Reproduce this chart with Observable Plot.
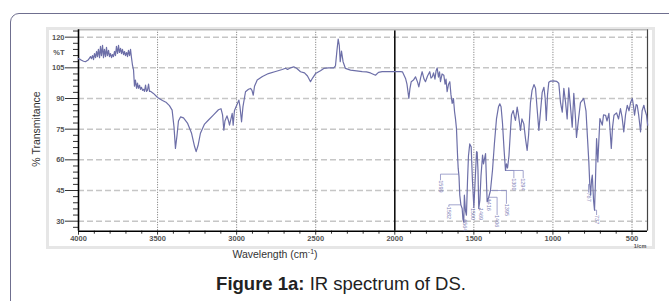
<!DOCTYPE html>
<html><head><meta charset="utf-8">
<script src="https://cdn.jsdelivr.net/npm/d3@7"></script>
<script src="https://cdn.jsdelivr.net/npm/@observablehq/plot@0.6"></script>
<style>
html,body{margin:0;padding:0;background:#fff;}
#wrap{position:relative;width:669px;height:301px;overflow:hidden;background:#fff;font-family:"Liberation Sans",Arial,sans-serif;}
#outer{position:absolute;left:10px;top:13px;width:720px;height:340px;border:1.5px solid #6f6f8f;border-radius:9px;box-sizing:border-box;}
#img{position:absolute;left:46px;top:27px;width:609px;height:222px;border:3px solid #e6e6e6;box-sizing:border-box;background:#fff;}
#chart{position:absolute;left:0;top:0;}
#ytitle{position:absolute;left:36px;top:129px;transform:translate(-50%,-50%) rotate(-90deg);font-size:10.5px;color:#333;white-space:nowrap;}
#xtitle{position:absolute;left:275px;top:254px;transform:translate(-50%,-50%);font-size:10.5px;color:#333;white-space:nowrap;}
#caption{position:absolute;left:341px;top:284px;transform:translate(-50%,-50%);font-size:18.5px;color:#222;white-space:nowrap;}
.ir .ticklab text{letter-spacing:0.4px;}
</style>
</head><body>
<div id="wrap">
  <div id="outer"></div>
  <div id="img"></div>
  <div id="chart"></div>
  <div id="ytitle">% Transmitance</div>
  <div id="xtitle">Wavelength (cm<sup style="font-size:7px">-1</sup>)</div>
  <div id="caption"><b>Figure 1a:</b> IR spectrum of DS.</div>
</div>
<script>
// Wavenumber (cm-1) and %T
const wavenumber = [4000,3987,3968,3956,3937,3924,3918,3911,3905,3899,3892,3886,3880,3874,3867,3861,3855,3848,3842,3836,3829,3823,3817,3810,3804,3798,3791,3785,3779,3772,3766,3760,3753,3747,3741,3734,3728,3722,3715,3709,3703,3696,3690,3684,3677,3671,3665,3659,3652,3646,3640,3633,3627,3621,3614,3608,3602,3595,3589,3583,3576,3570,3564,3557,3551,3545,3526,3500,3469,3444,3425,3408,3396,3387,3377,3368,3355,3336,3311,3285,3266,3256,3244,3229,3203,3178,3146,3115,3099,3089,3081,3074,3061,3051,3045,3036,3028,3022,3014,3001,2986,2979,2969,2960,2944,2925,2912,2903,2895,2887,2870,2837,2799,2754,2712,2691,2678,2659,2639,2621,2596,2571,2552,2533,2520,2501,2470,2449,2419,2386,2375,2365,2358,2351,2345,2337,2327,2312,2280,2242,2206,2179,2154,2122,2103,2080,2040,2002,1964,1951,1932,1923,1911,1904,1896,1882,1869,1856,1848,1837,1827,1815,1806,1793,1779,1771,1763,1755,1746,1739,1732,1724,1717,1711,1701,1690,1682,1676,1669,1660,1652,1645,1637,1629,1622,1616,1610,1603,1599,1594,1589,1582,1574,1569,1564,1560,1553,1547,1540,1534,1526,1517,1509,1500,1493,1483,1479,1474,1469,1462,1455,1445,1439,1426,1416,1406,1395,1382,1370,1357,1344,1336,1328,1319,1309,1300,1294,1287,1278,1268,1262,1251,1243,1237,1226,1218,1205,1196,1184,1173,1163,1154,1142,1132,1120,1110,1100,1089,1078,1068,1057,1049,1042,1034,1026,1015,996,977,963,952,941,931,920,910,900,889,878,868,857,851,838,826,805,791,781,773,767,762,756,751,743,737,731,724,716,703,688,680,667,658,646,639,631,623,614,598,585,573,563,552,541,530,519,509,498,490,484,474,467,458,452,446,436,425,417,408,401];
const transmittance = [109.5,109,108.2,108,109,110.5,109.5,111,109,112,110,113,110.5,114,110,115.5,111,116,110,114,110.5,115,111,113.5,110.5,112,110,111.5,110.5,113,111,115.5,112,116,112.5,114.5,112,114,111.5,113,111,112.5,110.5,113.5,111,114,110,106.5,104,96,99,95,97.5,95,96.5,94.5,95.5,94,94.5,93.5,96.5,93.5,94,97,93.5,93.5,92.5,90.5,89,88,86.5,84.3,76,65.6,72,79,81,80.5,78,73,66.5,64,67,73,77.5,79.5,82,84.5,85,82,74.5,79,81.5,79,77,80,82.7,77,84,86.5,89.2,86,78.6,86,93.3,94.5,94.9,94,91.6,96,99,100.8,102.2,103.2,104.2,104.8,104.2,105,105.5,104.8,103.1,102.5,101,98.2,100,102.2,103.6,104.7,105,105,106,114,119,116,108,113.2,108,104.7,103.9,103.5,103.1,103,102.5,101.4,102.8,103.1,103.2,103.1,103.1,103,99.8,97,90,95,98.2,99,100.6,98,95.7,100,103.1,99.5,98.2,101,103.1,100,100.6,102.5,99.5,103.5,105,100.5,103,98.2,102,101.4,97,99.5,93.3,97,98.2,92,87.6,90,83.5,80,75.3,62,55.8,52,42.7,38,36.2,31,29.5,42.7,35,32.9,50,62,67.8,66.4,50,36.8,48,64,63.7,55,36.2,40.1,52,62.3,58,63,39.5,41.7,45,55,68,80,86,87.4,86,78,65,54.8,58,56,62,75,82,84.1,81,79.3,85.8,82,74.4,80,77.6,70,64.6,72,88,94,96.8,95,85,74.4,84,93,95.5,90,79.3,92,98,98.5,98.6,98.4,97.5,88,83.3,95,88,80,95.2,86,76,92.5,80,71,80,88,90,84,70,59,48,42.7,50,52.5,40,35.4,50,70.4,59,80.2,77,82,81.8,79,82.7,75,65.6,76,81.8,83,80,85.1,81,73.7,82,86.7,84,88,90,86,81.8,87,86.7,82,78,73.7,84,86.7,84,81.8,77];

// axis ticks
const yMajor = [120,105,90,75,60,45,30];
const yMinor = [123,117,114,111,108,102,99,96,93,87,84,81,78,72,69,66,63,57,54,51,48,42,39,36,33,27];
const yUnitTick = [112.5];
const yUnitLabel = "%T";
const xMajor = [4000,3500,3000,2500,2000,1500,1000,500];
const xMinor = [3900,3800,3700,3600,3400,3300,3200,3100,2900,2800,2700,2600,2400,2300,2200,2100,1900,1800,1700,1600,1400,1300,1200,1100,900,800,700,600];
const xDotted = [3500,3000,2500,1500,1000,500];
const xSolid = [2000];
const xUnit = "1/cm";

// peak annotations: peak position, label position, label text
const annPeakW = [1599,1582,1564,1500,1469,1416,1406,1395,1300,1300,767,737];
const annPeakT = [53,38,29.5,36.8,36.2,39.5,41.7,45,54.8,54.8,48,35.4];
const annLabW  = [1711,1658,1556,1504,1458,1404,1353,1294,1247,1188,775,724];
const annLabT  = [50,37,31,36.5,36.5,41,33,38.5,51,51,44,33];
const annText  = ["1599","1582","1564","1500","1469","1416","1406","1395","1300","1294","767","737"];

const spectrum = wavenumber.map((w, i) => ({w, t: transmittance[i]}));
const ann = annText.map((s, i) => ({pw: annPeakW[i], pt: annPeakT[i], lw: annLabW[i], lt: annLabT[i], s}));

const yLo = 25.1, yHi = 123.6, xLo = 402;

const tickStyle = {fill: "#555", fontSize: 7.5, fontWeight: 600, label: null};

const plot = Plot.plot({
  width: 669, height: 301,
  marginLeft: 78, marginRight: 22, marginTop: 29.3, marginBottom: 70.3,
  className: "ir",
  style: {background: "transparent", fontFamily: "Liberation Sans, Arial, sans-serif"},
  x: {domain: [4000, xLo]},
  y: {domain: [yLo, yHi]},
  marks: [
    Plot.ruleY(yMajor, {stroke: "#c6c6c6", strokeWidth: 1.5, strokeDasharray: "6,3"}),
    Plot.ruleX(xDotted, {stroke: "#707070", strokeWidth: 1, strokeDasharray: "1,1.5"}),
    Plot.ruleX(xSolid, {stroke: "#111", strokeWidth: 1.6}),
    Plot.ruleX([xLo], {stroke: "#444", strokeWidth: 1.2}),
    Plot.ruleY([yHi], {stroke: "#bbbbbb", strokeWidth: 1.5}),
    Plot.axisY({ticks: yMajor, tickSize: 13, tickPadding: 1, tickFormat: d => String(d), stroke: "#333", ...tickStyle}),
    Plot.axisY({ticks: yMinor, tickSize: 5, tickFormat: () => "", stroke: "#333", label: null}),
    Plot.axisY({ticks: yUnitTick, tickSize: 0, tickPadding: 14, tickFormat: () => yUnitLabel, ...tickStyle}),
    Plot.axisX({ticks: xMajor, tickSize: 4, tickPadding: 0, tickFormat: d => String(d), stroke: "#333", ...tickStyle}),
    Plot.axisX({ticks: xMinor, tickSize: 3, tickFormat: () => "", stroke: "#333", label: null}),
    Plot.text([xUnit], {x: [500], frameAnchor: "bottom", dy: 17, dx: 8, text: d => d, fill: "#555", fontSize: 5.5, fontWeight: 600}),
    Plot.ruleX([4000], {stroke: "#000", strokeWidth: 1.6}),
    Plot.ruleY([yLo], {stroke: "#000", strokeWidth: 1.6}),
    Plot.link(ann, {x1: "pw", y1: "pt", x2: "lw", y2: "pt", stroke: "#8a8dc0", strokeWidth: 0.8}),
    Plot.link(ann, {x1: "lw", y1: "pt", x2: "lw", y2: "lt", stroke: "#8a8dc0", strokeWidth: 0.8}),
    Plot.text(ann, {x: "lw", y: "lt", text: "s", rotate: 90, textAnchor: "start", fill: "#7f82b8", fontSize: 5.5}),
    Plot.line(spectrum, {x: "w", y: "t", stroke: "#6d6fa8", strokeWidth: 1.2})
  ]
});
document.getElementById("chart").appendChild(plot);
</script>
</body></html>
